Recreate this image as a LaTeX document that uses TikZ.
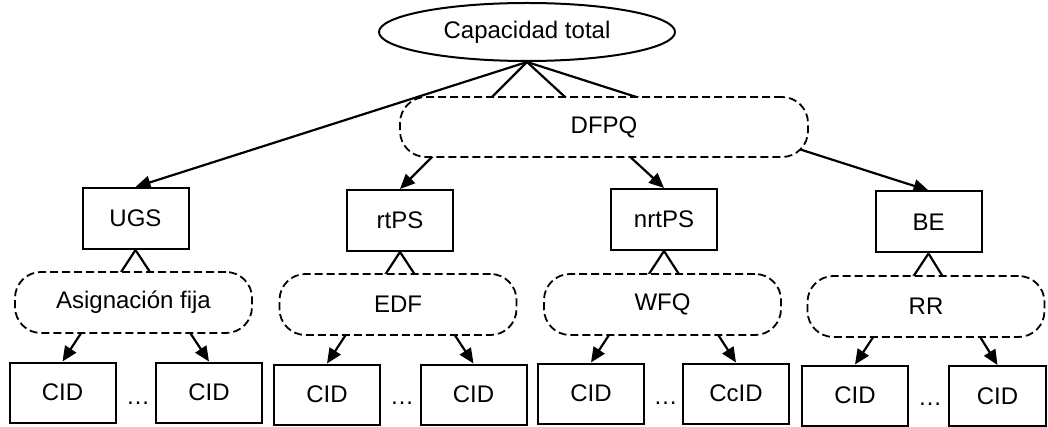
\documentclass[tikz,border=0pt]{standalone}
\usepackage{fontspec}
\setmainfont{Liberation Sans}
\usetikzlibrary{arrows.meta,shapes.geometric}
\pgfdeclarelayer{edges}
\pgfsetlayers{edges,main}
\begin{document}
\begin{tikzpicture}[x=1pt,y=-1pt,
  every node/.style={font=\fontsize{24}{28}\selectfont},
  rootnode/.style={ellipse, draw, line width=2pt, fill=white, minimum width=296pt, minimum height=58pt, inner sep=0pt},
  classbox/.style={draw, line width=2pt, fill=white, minimum width=106pt, minimum height=61pt, inner sep=0pt},
  cidbox/.style={draw, line width=2pt, fill=white, minimum width=106pt, minimum height=60pt, inner sep=0pt},
  sched/.style={draw, line width=1.8pt, dash pattern=on 8pt off 4pt, rounded corners=26pt, fill=white, minimum width=237pt, minimum height=61pt, inner sep=0pt},
  dotsnode/.style={inner sep=0pt},
  link/.style={line width=2.2pt, -{Triangle[length=15pt,width=13pt]}}
]
\useasboundingbox (0,0) rectangle (1048,427);

% root of the hierarchy
\node[rootnode] (total) at (527,32) {Capacidad total};

% service classes
\node[classbox] (ugs)   at (135.5,218.5) {UGS};
\node[classbox] (rtps)  at (400,220.5)   {rtPS};
\node[classbox] (nrtps) at (664,219.5)   {nrtPS};
\node[classbox] (be)    at (928.5,222)   {BE};

% class-level scheduler
\node[sched, minimum width=408pt, minimum height=60pt] (dfpq) at (604,127) {DFPQ};

% per-class schedulers
\node[sched] (asig) at (133.5,302.5) {Asignación fija};
\node[sched] (edf)  at (398,304.5)   {EDF};
\node[sched] (wfq)  at (662.5,304.5) {WFQ};
\node[sched] (rr)   at (926,306.5)   {RR};

% connections
\node[cidbox] (c11) at (62.5,392.5) {CID};
\node[cidbox] (c12) at (209,392.5)  {CID};
\node[cidbox] (c21) at (327,394.5)  {CID};
\node[cidbox] (c22) at (473.5,394.5) {CID};
\node[cidbox] (c31) at (591,393.5)  {CID};
\node[cidbox] (c32) at (736,393.5)  {CcID};
\node[cidbox] (c41) at (855,395.5)  {CID};
\node[cidbox, minimum width=97pt] (c42) at (997.5,396) {CID};

\node[dotsnode] (d1) at (138,403) {…};
\node[dotsnode] (d2) at (402,403) {…};
\node[dotsnode] (d3) at (665.5,403) {…};
\node[dotsnode] (d4) at (930,404) {…};

% edges run underneath the scheduler boxes
\begin{pgfonlayer}{edges}
  \foreach \c in {ugs,rtps,nrtps,be}
    \draw[link] (total.south) -- (\c.north);
  \draw[link] (ugs.south)   -- (c11.north);
  \draw[link] (ugs.south)   -- (c12.north);
  \draw[link] (rtps.south)  -- (c21.north);
  \draw[link] (rtps.south)  -- (c22.north);
  \draw[link] (nrtps.south) -- (c31.north);
  \draw[link] (nrtps.south) -- (c32.north);
  \draw[link] (be.south)    -- (c41.north);
  \draw[link] (be.south)    -- (c42.north);
\end{pgfonlayer}
\end{tikzpicture}
\end{document}
